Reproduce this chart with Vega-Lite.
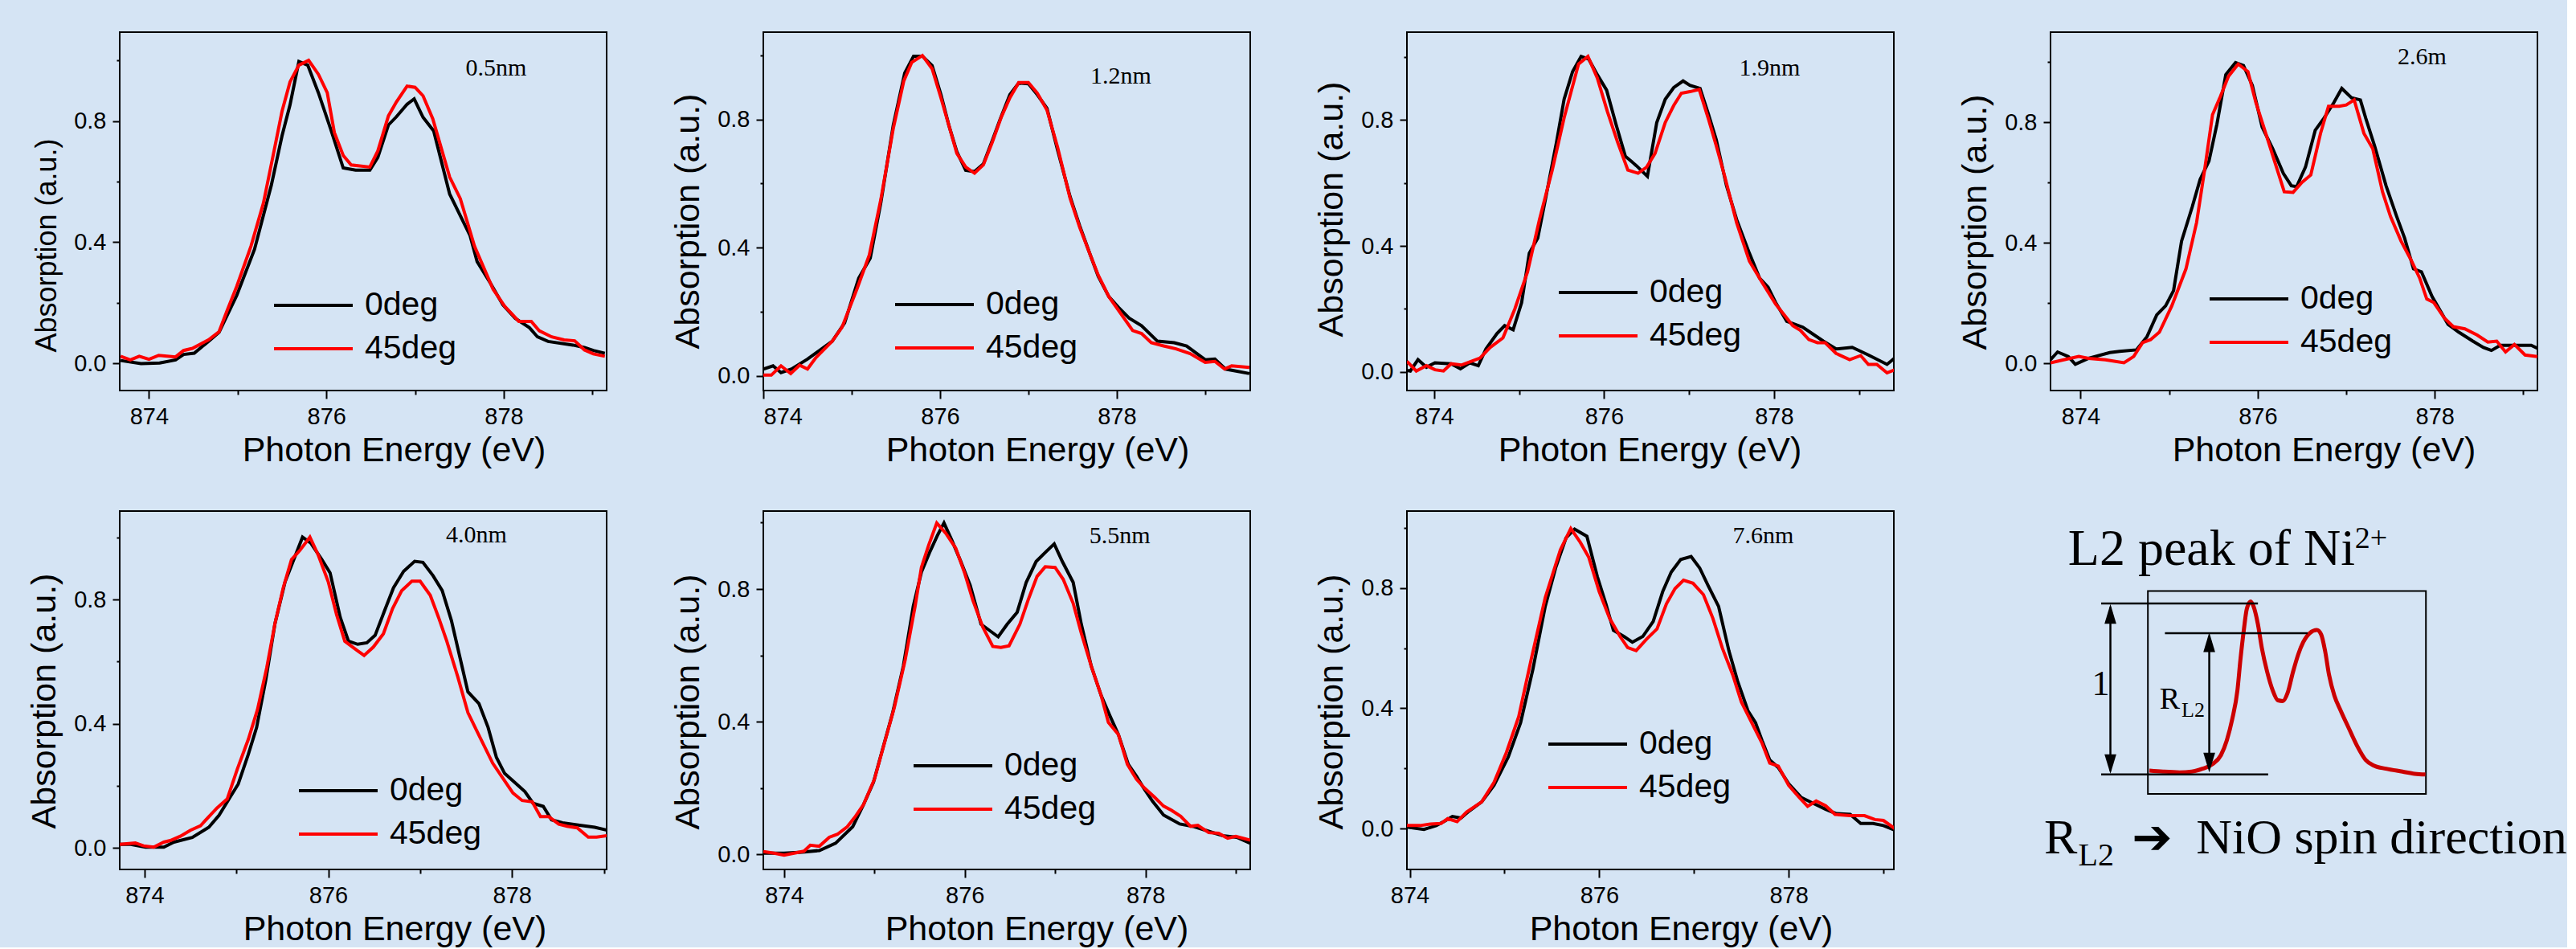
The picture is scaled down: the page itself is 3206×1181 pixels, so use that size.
{
"$schema": "https://vega.github.io/schema/vega-lite/v6.json",
"background": "#d5e4f4",
"padding": {"left": 33, "top": 39, "right": 0, "bottom": 0},
"config": {
  "view": {"stroke": "#000000", "strokeWidth": 2},
  "line": {"strokeWidth": 4},
  "axis": {"domain": false, "grid": false, "labelFont": "Liberation Sans", "labelFontSize": 29, "labelColor": "#000000", "titleFont": "Liberation Sans", "titleFontSize": 43, "titleFontWeight": "normal", "titleColor": "#000000", "tickColor": "#000000", "tickWidth": 2},
  "legend": {"orient": "none", "symbolType": "stroke", "symbolSize": 9604, "symbolStrokeWidth": 4.5, "labelFont": "Liberation Sans", "labelFontSize": 41, "labelColor": "#000000", "labelOffset": 13, "clipHeight": 44, "rowPadding": 10, "padding": 0, "labelLimit": 0}
},
"datasets": {
  "spec": [
{"p":"P1","s":"0deg","e":873.68,"a":0.010},{"p":"P1","s":"0deg","e":873.91,"a":0.0},{"p":"P1","s":"0deg","e":874.12,"a":0.002},{"p":"P1","s":"0deg","e":874.30,"a":0.012},{"p":"P1","s":"0deg","e":874.39,"a":0.030},{"p":"P1","s":"0deg","e":874.51,"a":0.034},{"p":"P1","s":"0deg","e":874.67,"a":0.073},{"p":"P1","s":"0deg","e":874.79,"a":0.103},{"p":"P1","s":"0deg","e":874.99,"a":0.225},{"p":"P1","s":"0deg","e":875.19,"a":0.377},{"p":"P1","s":"0deg","e":875.38,"a":0.589},{"p":"P1","s":"0deg","e":875.50,"a":0.751},{"p":"P1","s":"0deg","e":875.59,"a":0.853},{"p":"P1","s":"0deg","e":875.69,"a":0.996},{"p":"P1","s":"0deg","e":875.79,"a":0.984},{"p":"P1","s":"0deg","e":875.91,"a":0.893},{"p":"P1","s":"0deg","e":876.05,"a":0.772},{"p":"P1","s":"0deg","e":876.19,"a":0.645},{"p":"P1","s":"0deg","e":876.33,"a":0.638},{"p":"P1","s":"0deg","e":876.49,"a":0.638},{"p":"P1","s":"0deg","e":876.58,"a":0.680},{"p":"P1","s":"0deg","e":876.70,"a":0.787},{"p":"P1","s":"0deg","e":876.79,"a":0.814},{"p":"P1","s":"0deg","e":876.91,"a":0.855},{"p":"P1","s":"0deg","e":876.99,"a":0.873},{"p":"P1","s":"0deg","e":877.09,"a":0.812},{"p":"P1","s":"0deg","e":877.21,"a":0.767},{"p":"P1","s":"0deg","e":877.39,"a":0.559},{"p":"P1","s":"0deg","e":877.51,"a":0.488},{"p":"P1","s":"0deg","e":877.62,"a":0.422},{"p":"P1","s":"0deg","e":877.70,"a":0.336},{"p":"P1","s":"0deg","e":877.85,"a":0.265},{"p":"P1","s":"0deg","e":877.99,"a":0.194},{"p":"P1","s":"0deg","e":878.13,"a":0.149},{"p":"P1","s":"0deg","e":878.29,"a":0.118},{"p":"P1","s":"0deg","e":878.38,"a":0.088},{"p":"P1","s":"0deg","e":878.50,"a":0.073},{"p":"P1","s":"0deg","e":878.78,"a":0.061},{"p":"P1","s":"0deg","e":878.91,"a":0.053},{"p":"P1","s":"0deg","e":879.01,"a":0.043},{"p":"P1","s":"0deg","e":879.14,"a":0.034},
{"p":"P1","s":"45deg","e":873.68,"a":0.024},{"p":"P1","s":"45deg","e":873.79,"a":0.012},{"p":"P1","s":"45deg","e":873.89,"a":0.024},{"p":"P1","s":"45deg","e":874.0,"a":0.014},{"p":"P1","s":"45deg","e":874.11,"a":0.027},{"p":"P1","s":"45deg","e":874.30,"a":0.022},{"p":"P1","s":"45deg","e":874.39,"a":0.043},{"p":"P1","s":"45deg","e":874.49,"a":0.050},{"p":"P1","s":"45deg","e":874.67,"a":0.078},{"p":"P1","s":"45deg","e":874.79,"a":0.105},{"p":"P1","s":"45deg","e":874.88,"a":0.174},{"p":"P1","s":"45deg","e":874.99,"a":0.255},{"p":"P1","s":"45deg","e":875.15,"a":0.387},{"p":"P1","s":"45deg","e":875.29,"a":0.529},{"p":"P1","s":"45deg","e":875.41,"a":0.701},{"p":"P1","s":"45deg","e":875.50,"a":0.832},{"p":"P1","s":"45deg","e":875.59,"a":0.929},{"p":"P1","s":"45deg","e":875.69,"a":0.984},{"p":"P1","s":"45deg","e":875.80,"a":1.0},{"p":"P1","s":"45deg","e":875.91,"a":0.954},{"p":"P1","s":"45deg","e":876.01,"a":0.893},{"p":"P1","s":"45deg","e":876.09,"a":0.762},{"p":"P1","s":"45deg","e":876.19,"a":0.686},{"p":"P1","s":"45deg","e":876.28,"a":0.655},{"p":"P1","s":"45deg","e":876.49,"a":0.648},{"p":"P1","s":"45deg","e":876.58,"a":0.701},{"p":"P1","s":"45deg","e":876.70,"a":0.817},{"p":"P1","s":"45deg","e":876.79,"a":0.863},{"p":"P1","s":"45deg","e":876.91,"a":0.915},{"p":"P1","s":"45deg","e":877.00,"a":0.911},{"p":"P1","s":"45deg","e":877.09,"a":0.883},{"p":"P1","s":"45deg","e":877.20,"a":0.807},{"p":"P1","s":"45deg","e":877.39,"a":0.615},{"p":"P1","s":"45deg","e":877.51,"a":0.544},{"p":"P1","s":"45deg","e":877.67,"a":0.387},{"p":"P1","s":"45deg","e":877.88,"a":0.245},{"p":"P1","s":"45deg","e":878.01,"a":0.189},{"p":"P1","s":"45deg","e":878.17,"a":0.139},{"p":"P1","s":"45deg","e":878.31,"a":0.139},{"p":"P1","s":"45deg","e":878.40,"a":0.108},{"p":"P1","s":"45deg","e":878.54,"a":0.088},{"p":"P1","s":"45deg","e":878.68,"a":0.078},{"p":"P1","s":"45deg","e":878.80,"a":0.075},{"p":"P1","s":"45deg","e":878.91,"a":0.045},{"p":"P1","s":"45deg","e":879.01,"a":0.032},{"p":"P1","s":"45deg","e":879.14,"a":0.024},
{"p":"P2","s":"0deg","e":874.0,"a":0.021},{"p":"P2","s":"0deg","e":874.11,"a":0.031},{"p":"P2","s":"0deg","e":874.20,"a":0.010},{"p":"P2","s":"0deg","e":874.32,"a":0.021},{"p":"P2","s":"0deg","e":874.50,"a":0.052},{"p":"P2","s":"0deg","e":874.78,"a":0.108},{"p":"P2","s":"0deg","e":874.92,"a":0.165},{"p":"P2","s":"0deg","e":875.08,"a":0.305},{"p":"P2","s":"0deg","e":875.21,"a":0.367},{"p":"P2","s":"0deg","e":875.33,"a":0.540},{"p":"P2","s":"0deg","e":875.47,"a":0.781},{"p":"P2","s":"0deg","e":875.60,"a":0.944},{"p":"P2","s":"0deg","e":875.70,"a":0.997},{"p":"P2","s":"0deg","e":875.80,"a":0.997},{"p":"P2","s":"0deg","e":875.91,"a":0.968},{"p":"P2","s":"0deg","e":876.01,"a":0.877},{"p":"P2","s":"0deg","e":876.10,"a":0.781},{"p":"P2","s":"0deg","e":876.19,"a":0.699},{"p":"P2","s":"0deg","e":876.29,"a":0.641},{"p":"P2","s":"0deg","e":876.39,"a":0.637},{"p":"P2","s":"0deg","e":876.49,"a":0.661},{"p":"P2","s":"0deg","e":876.59,"a":0.733},{"p":"P2","s":"0deg","e":876.68,"a":0.800},{"p":"P2","s":"0deg","e":876.79,"a":0.877},{"p":"P2","s":"0deg","e":876.89,"a":0.913},{"p":"P2","s":"0deg","e":877.0,"a":0.911},{"p":"P2","s":"0deg","e":877.10,"a":0.877},{"p":"P2","s":"0deg","e":877.21,"a":0.834},{"p":"P2","s":"0deg","e":877.33,"a":0.704},{"p":"P2","s":"0deg","e":877.47,"a":0.560},{"p":"P2","s":"0deg","e":877.58,"a":0.468},{"p":"P2","s":"0deg","e":877.70,"a":0.377},{"p":"P2","s":"0deg","e":877.79,"a":0.310},{"p":"P2","s":"0deg","e":877.91,"a":0.247},{"p":"P2","s":"0deg","e":878.02,"a":0.213},{"p":"P2","s":"0deg","e":878.14,"a":0.180},{"p":"P2","s":"0deg","e":878.28,"a":0.156},{"p":"P2","s":"0deg","e":878.46,"a":0.108},{"p":"P2","s":"0deg","e":878.65,"a":0.103},{"p":"P2","s":"0deg","e":878.79,"a":0.093},{"p":"P2","s":"0deg","e":879.0,"a":0.050},{"p":"P2","s":"0deg","e":879.11,"a":0.052},{"p":"P2","s":"0deg","e":879.23,"a":0.021},{"p":"P2","s":"0deg","e":879.50,"a":0.007},
{"p":"P2","s":"45deg","e":874.0,"a":0.002},{"p":"P2","s":"45deg","e":874.09,"a":0.002},{"p":"P2","s":"45deg","e":874.20,"a":0.031},{"p":"P2","s":"45deg","e":874.31,"a":0.007},{"p":"P2","s":"45deg","e":874.41,"a":0.033},{"p":"P2","s":"45deg","e":874.50,"a":0.021},{"p":"P2","s":"45deg","e":874.59,"a":0.055},{"p":"P2","s":"45deg","e":874.78,"a":0.108},{"p":"P2","s":"45deg","e":874.89,"a":0.151},{"p":"P2","s":"45deg","e":875.06,"a":0.271},{"p":"P2","s":"45deg","e":875.20,"a":0.377},{"p":"P2","s":"45deg","e":875.33,"a":0.550},{"p":"P2","s":"45deg","e":875.47,"a":0.771},{"p":"P2","s":"45deg","e":875.59,"a":0.920},{"p":"P2","s":"45deg","e":875.68,"a":0.978},{"p":"P2","s":"45deg","e":875.80,"a":0.999},{"p":"P2","s":"45deg","e":875.91,"a":0.958},{"p":"P2","s":"45deg","e":876.01,"a":0.867},{"p":"P2","s":"45deg","e":876.10,"a":0.781},{"p":"P2","s":"45deg","e":876.19,"a":0.694},{"p":"P2","s":"45deg","e":876.29,"a":0.651},{"p":"P2","s":"45deg","e":876.39,"a":0.632},{"p":"P2","s":"45deg","e":876.49,"a":0.658},{"p":"P2","s":"45deg","e":876.59,"a":0.728},{"p":"P2","s":"45deg","e":876.69,"a":0.805},{"p":"P2","s":"45deg","e":876.79,"a":0.867},{"p":"P2","s":"45deg","e":876.89,"a":0.915},{"p":"P2","s":"45deg","e":877.0,"a":0.915},{"p":"P2","s":"45deg","e":877.10,"a":0.882},{"p":"P2","s":"45deg","e":877.21,"a":0.829},{"p":"P2","s":"45deg","e":877.33,"a":0.713},{"p":"P2","s":"45deg","e":877.47,"a":0.555},{"p":"P2","s":"45deg","e":877.58,"a":0.463},{"p":"P2","s":"45deg","e":877.70,"a":0.377},{"p":"P2","s":"45deg","e":877.79,"a":0.314},{"p":"P2","s":"45deg","e":877.91,"a":0.247},{"p":"P2","s":"45deg","e":878.02,"a":0.204},{"p":"P2","s":"45deg","e":878.18,"a":0.141},{"p":"P2","s":"45deg","e":878.28,"a":0.132},{"p":"P2","s":"45deg","e":878.39,"a":0.103},{"p":"P2","s":"45deg","e":878.53,"a":0.093},{"p":"P2","s":"45deg","e":878.67,"a":0.084},{"p":"P2","s":"45deg","e":878.83,"a":0.069},{"p":"P2","s":"45deg","e":879.0,"a":0.042},{"p":"P2","s":"45deg","e":879.11,"a":0.045},{"p":"P2","s":"45deg","e":879.22,"a":0.021},{"p":"P2","s":"45deg","e":879.30,"a":0.031},{"p":"P2","s":"45deg","e":879.50,"a":0.026},
{"p":"P3","s":"0deg","e":873.68,"a":0.005},{"p":"P3","s":"0deg","e":873.72,"a":0.003},{"p":"P3","s":"0deg","e":873.81,"a":0.039},{"p":"P3","s":"0deg","e":873.91,"a":0.015},{"p":"P3","s":"0deg","e":874.01,"a":0.029},{"p":"P3","s":"0deg","e":874.20,"a":0.026},{"p":"P3","s":"0deg","e":874.31,"a":0.010},{"p":"P3","s":"0deg","e":874.42,"a":0.029},{"p":"P3","s":"0deg","e":874.52,"a":0.020},{"p":"P3","s":"0deg","e":874.61,"a":0.073},{"p":"P3","s":"0deg","e":874.74,"a":0.122},{"p":"P3","s":"0deg","e":874.83,"a":0.147},{"p":"P3","s":"0deg","e":874.93,"a":0.134},{"p":"P3","s":"0deg","e":875.03,"a":0.220},{"p":"P3","s":"0deg","e":875.12,"a":0.377},{"p":"P3","s":"0deg","e":875.22,"a":0.425},{"p":"P3","s":"0deg","e":875.32,"a":0.562},{"p":"P3","s":"0deg","e":875.44,"a":0.729},{"p":"P3","s":"0deg","e":875.53,"a":0.866},{"p":"P3","s":"0deg","e":875.63,"a":0.954},{"p":"P3","s":"0deg","e":875.73,"a":1.002},{"p":"P3","s":"0deg","e":875.82,"a":0.993},{"p":"P3","s":"0deg","e":875.92,"a":0.944},{"p":"P3","s":"0deg","e":876.03,"a":0.895},{"p":"P3","s":"0deg","e":876.14,"a":0.787},{"p":"P3","s":"0deg","e":876.25,"a":0.685},{"p":"P3","s":"0deg","e":876.38,"a":0.655},{"p":"P3","s":"0deg","e":876.51,"a":0.621},{"p":"P3","s":"0deg","e":876.62,"a":0.792},{"p":"P3","s":"0deg","e":876.72,"a":0.866},{"p":"P3","s":"0deg","e":876.82,"a":0.903},{"p":"P3","s":"0deg","e":876.93,"a":0.924},{"p":"P3","s":"0deg","e":877.01,"a":0.910},{"p":"P3","s":"0deg","e":877.13,"a":0.900},{"p":"P3","s":"0deg","e":877.23,"a":0.817},{"p":"P3","s":"0deg","e":877.32,"a":0.738},{"p":"P3","s":"0deg","e":877.44,"a":0.592},{"p":"P3","s":"0deg","e":877.56,"a":0.484},{"p":"P3","s":"0deg","e":877.71,"a":0.377},{"p":"P3","s":"0deg","e":877.83,"a":0.298},{"p":"P3","s":"0deg","e":877.93,"a":0.269},{"p":"P3","s":"0deg","e":878.02,"a":0.220},{"p":"P3","s":"0deg","e":878.15,"a":0.161},{"p":"P3","s":"0deg","e":878.34,"a":0.142},{"p":"P3","s":"0deg","e":878.58,"a":0.098},{"p":"P3","s":"0deg","e":878.73,"a":0.073},{"p":"P3","s":"0deg","e":878.92,"a":0.078},{"p":"P3","s":"0deg","e":879.11,"a":0.054},{"p":"P3","s":"0deg","e":879.33,"a":0.024},{"p":"P3","s":"0deg","e":879.42,"a":0.044},
{"p":"P3","s":"45deg","e":873.68,"a":0.034},{"p":"P3","s":"45deg","e":873.79,"a":0.003},{"p":"P3","s":"45deg","e":873.91,"a":0.020},{"p":"P3","s":"45deg","e":874.01,"a":0.007},{"p":"P3","s":"45deg","e":874.11,"a":0.003},{"p":"P3","s":"45deg","e":874.20,"a":0.026},{"p":"P3","s":"45deg","e":874.32,"a":0.022},{"p":"P3","s":"45deg","e":874.42,"a":0.032},{"p":"P3","s":"45deg","e":874.54,"a":0.044},{"p":"P3","s":"45deg","e":874.66,"a":0.078},{"p":"P3","s":"45deg","e":874.81,"a":0.108},{"p":"P3","s":"45deg","e":874.95,"a":0.200},{"p":"P3","s":"45deg","e":875.10,"a":0.318},{"p":"P3","s":"45deg","e":875.24,"a":0.484},{"p":"P3","s":"45deg","e":875.39,"a":0.641},{"p":"P3","s":"45deg","e":875.53,"a":0.807},{"p":"P3","s":"45deg","e":875.70,"a":0.978},{"p":"P3","s":"45deg","e":875.81,"a":1.002},{"p":"P3","s":"45deg","e":875.92,"a":0.934},{"p":"P3","s":"45deg","e":876.04,"a":0.826},{"p":"P3","s":"45deg","e":876.16,"a":0.729},{"p":"P3","s":"45deg","e":876.28,"a":0.641},{"p":"P3","s":"45deg","e":876.40,"a":0.631},{"p":"P3","s":"45deg","e":876.50,"a":0.650},{"p":"P3","s":"45deg","e":876.60,"a":0.694},{"p":"P3","s":"45deg","e":876.72,"a":0.792},{"p":"P3","s":"45deg","e":876.82,"a":0.846},{"p":"P3","s":"45deg","e":876.91,"a":0.885},{"p":"P3","s":"45deg","e":877.01,"a":0.890},{"p":"P3","s":"45deg","e":877.12,"a":0.897},{"p":"P3","s":"45deg","e":877.23,"a":0.802},{"p":"P3","s":"45deg","e":877.32,"a":0.719},{"p":"P3","s":"45deg","e":877.42,"a":0.621},{"p":"P3","s":"45deg","e":877.56,"a":0.474},{"p":"P3","s":"45deg","e":877.71,"a":0.352},{"p":"P3","s":"45deg","e":877.85,"a":0.289},{"p":"P3","s":"45deg","e":878.02,"a":0.215},{"p":"P3","s":"45deg","e":878.22,"a":0.147},{"p":"P3","s":"45deg","e":878.31,"a":0.132},{"p":"P3","s":"45deg","e":878.41,"a":0.103},{"p":"P3","s":"45deg","e":878.51,"a":0.093},{"p":"P3","s":"45deg","e":878.60,"a":0.093},{"p":"P3","s":"45deg","e":878.73,"a":0.059},{"p":"P3","s":"45deg","e":878.89,"a":0.039},{"p":"P3","s":"45deg","e":879.02,"a":0.052},{"p":"P3","s":"45deg","e":879.11,"a":0.024},{"p":"P3","s":"45deg","e":879.21,"a":0.024},{"p":"P3","s":"45deg","e":879.33,"a":-0.003},{"p":"P3","s":"45deg","e":879.42,"a":0.007},
{"p":"P4","s":"0deg","e":873.66,"a":0.012},{"p":"P4","s":"0deg","e":873.74,"a":0.038},{"p":"P4","s":"0deg","e":873.86,"a":0.023},{"p":"P4","s":"0deg","e":873.94,"a":-0.003},{"p":"P4","s":"0deg","e":874.09,"a":0.017},{"p":"P4","s":"0deg","e":874.33,"a":0.036},{"p":"P4","s":"0deg","e":874.44,"a":0.040},{"p":"P4","s":"0deg","e":874.63,"a":0.045},{"p":"P4","s":"0deg","e":874.75,"a":0.089},{"p":"P4","s":"0deg","e":874.86,"a":0.161},{"p":"P4","s":"0deg","e":874.96,"a":0.191},{"p":"P4","s":"0deg","e":875.05,"a":0.242},{"p":"P4","s":"0deg","e":875.14,"a":0.406},{"p":"P4","s":"0deg","e":875.26,"a":0.519},{"p":"P4","s":"0deg","e":875.35,"a":0.611},{"p":"P4","s":"0deg","e":875.45,"a":0.672},{"p":"P4","s":"0deg","e":875.54,"a":0.795},{"p":"P4","s":"0deg","e":875.64,"a":0.959},{"p":"P4","s":"0deg","e":875.75,"a":0.999},{"p":"P4","s":"0deg","e":875.84,"a":0.989},{"p":"P4","s":"0deg","e":875.94,"a":0.923},{"p":"P4","s":"0deg","e":876.05,"a":0.785},{"p":"P4","s":"0deg","e":876.17,"a":0.713},{"p":"P4","s":"0deg","e":876.29,"a":0.631},{"p":"P4","s":"0deg","e":876.38,"a":0.590},{"p":"P4","s":"0deg","e":876.44,"a":0.587},{"p":"P4","s":"0deg","e":876.54,"a":0.652},{"p":"P4","s":"0deg","e":876.65,"a":0.774},{"p":"P4","s":"0deg","e":876.75,"a":0.815},{"p":"P4","s":"0deg","e":876.86,"a":0.866},{"p":"P4","s":"0deg","e":876.95,"a":0.913},{"p":"P4","s":"0deg","e":877.06,"a":0.882},{"p":"P4","s":"0deg","e":877.16,"a":0.875},{"p":"P4","s":"0deg","e":877.22,"a":0.815},{"p":"P4","s":"0deg","e":877.32,"a":0.723},{"p":"P4","s":"0deg","e":877.45,"a":0.590},{"p":"P4","s":"0deg","e":877.57,"a":0.488},{"p":"P4","s":"0deg","e":877.66,"a":0.416},{"p":"P4","s":"0deg","e":877.76,"a":0.314},{"p":"P4","s":"0deg","e":877.85,"a":0.304},{"p":"P4","s":"0deg","e":877.97,"a":0.222},{"p":"P4","s":"0deg","e":878.15,"a":0.130},{"p":"P4","s":"0deg","e":878.27,"a":0.104},{"p":"P4","s":"0deg","e":878.43,"a":0.074},{"p":"P4","s":"0deg","e":878.55,"a":0.053},{"p":"P4","s":"0deg","e":878.64,"a":0.043},{"p":"P4","s":"0deg","e":878.74,"a":0.060},{"p":"P4","s":"0deg","e":878.95,"a":0.060},{"p":"P4","s":"0deg","e":879.09,"a":0.060},{"p":"P4","s":"0deg","e":879.16,"a":0.050},
{"p":"P4","s":"45deg","e":873.66,"a":0.002},{"p":"P4","s":"45deg","e":873.81,"a":0.012},{"p":"P4","s":"45deg","e":873.98,"a":0.023},{"p":"P4","s":"45deg","e":874.09,"a":0.017},{"p":"P4","s":"45deg","e":874.28,"a":0.012},{"p":"P4","s":"45deg","e":874.49,"a":0.002},{"p":"P4","s":"45deg","e":874.60,"a":0.023},{"p":"P4","s":"45deg","e":874.70,"a":0.069},{"p":"P4","s":"45deg","e":874.79,"a":0.079},{"p":"P4","s":"45deg","e":874.89,"a":0.104},{"p":"P4","s":"45deg","e":875.03,"a":0.191},{"p":"P4","s":"45deg","e":875.19,"a":0.314},{"p":"P4","s":"45deg","e":875.31,"a":0.468},{"p":"P4","s":"45deg","e":875.40,"a":0.641},{"p":"P4","s":"45deg","e":875.49,"a":0.826},{"p":"P4","s":"45deg","e":875.58,"a":0.887},{"p":"P4","s":"45deg","e":875.67,"a":0.953},{"p":"P4","s":"45deg","e":875.78,"a":0.994},{"p":"P4","s":"45deg","e":875.89,"a":0.969},{"p":"P4","s":"45deg","e":875.98,"a":0.866},{"p":"P4","s":"45deg","e":876.08,"a":0.774},{"p":"P4","s":"45deg","e":876.19,"a":0.672},{"p":"P4","s":"45deg","e":876.30,"a":0.570},{"p":"P4","s":"45deg","e":876.40,"a":0.568},{"p":"P4","s":"45deg","e":876.50,"a":0.601},{"p":"P4","s":"45deg","e":876.60,"a":0.626},{"p":"P4","s":"45deg","e":876.71,"a":0.764},{"p":"P4","s":"45deg","e":876.80,"a":0.854},{"p":"P4","s":"45deg","e":876.92,"a":0.854},{"p":"P4","s":"45deg","e":877.00,"a":0.858},{"p":"P4","s":"45deg","e":877.09,"a":0.875},{"p":"P4","s":"45deg","e":877.20,"a":0.764},{"p":"P4","s":"45deg","e":877.30,"a":0.713},{"p":"P4","s":"45deg","e":877.41,"a":0.570},{"p":"P4","s":"45deg","e":877.50,"a":0.488},{"p":"P4","s":"45deg","e":877.62,"a":0.406},{"p":"P4","s":"45deg","e":877.73,"a":0.345},{"p":"P4","s":"45deg","e":877.83,"a":0.283},{"p":"P4","s":"45deg","e":877.91,"a":0.214},{"p":"P4","s":"45deg","e":877.99,"a":0.202},{"p":"P4","s":"45deg","e":878.11,"a":0.150},{"p":"P4","s":"45deg","e":878.21,"a":0.122},{"p":"P4","s":"45deg","e":878.34,"a":0.115},{"p":"P4","s":"45deg","e":878.48,"a":0.094},{"p":"P4","s":"45deg","e":878.60,"a":0.071},{"p":"P4","s":"45deg","e":878.70,"a":0.074},{"p":"P4","s":"45deg","e":878.80,"a":0.038},{"p":"P4","s":"45deg","e":878.90,"a":0.063},{"p":"P4","s":"45deg","e":879.02,"a":0.028},{"p":"P4","s":"45deg","e":879.16,"a":0.023},
{"p":"P5","s":"0deg","e":873.73,"a":0.012},{"p":"P5","s":"0deg","e":873.85,"a":0.012},{"p":"P5","s":"0deg","e":874.01,"a":0.003},{"p":"P5","s":"0deg","e":874.21,"a":0.003},{"p":"P5","s":"0deg","e":874.32,"a":0.019},{"p":"P5","s":"0deg","e":874.52,"a":0.034},{"p":"P5","s":"0deg","e":874.70,"a":0.067},{"p":"P5","s":"0deg","e":874.81,"a":0.105},{"p":"P5","s":"0deg","e":874.92,"a":0.158},{"p":"P5","s":"0deg","e":875.02,"a":0.206},{"p":"P5","s":"0deg","e":875.13,"a":0.302},{"p":"P5","s":"0deg","e":875.22,"a":0.388},{"p":"P5","s":"0deg","e":875.32,"a":0.541},{"p":"P5","s":"0deg","e":875.42,"a":0.723},{"p":"P5","s":"0deg","e":875.53,"a":0.857},{"p":"P5","s":"0deg","e":875.62,"a":0.925},{"p":"P5","s":"0deg","e":875.72,"a":1.001},{"p":"P5","s":"0deg","e":875.81,"a":0.982},{"p":"P5","s":"0deg","e":875.93,"a":0.929},{"p":"P5","s":"0deg","e":876.02,"a":0.886},{"p":"P5","s":"0deg","e":876.13,"a":0.743},{"p":"P5","s":"0deg","e":876.22,"a":0.666},{"p":"P5","s":"0deg","e":876.32,"a":0.656},{"p":"P5","s":"0deg","e":876.42,"a":0.661},{"p":"P5","s":"0deg","e":876.51,"a":0.685},{"p":"P5","s":"0deg","e":876.61,"a":0.762},{"p":"P5","s":"0deg","e":876.71,"a":0.838},{"p":"P5","s":"0deg","e":876.82,"a":0.891},{"p":"P5","s":"0deg","e":876.94,"a":0.923},{"p":"P5","s":"0deg","e":877.03,"a":0.920},{"p":"P5","s":"0deg","e":877.14,"a":0.877},{"p":"P5","s":"0deg","e":877.24,"a":0.829},{"p":"P5","s":"0deg","e":877.34,"a":0.733},{"p":"P5","s":"0deg","e":877.43,"a":0.618},{"p":"P5","s":"0deg","e":877.52,"a":0.503},{"p":"P5","s":"0deg","e":877.64,"a":0.465},{"p":"P5","s":"0deg","e":877.74,"a":0.388},{"p":"P5","s":"0deg","e":877.83,"a":0.292},{"p":"P5","s":"0deg","e":877.92,"a":0.240},{"p":"P5","s":"0deg","e":878.03,"a":0.211},{"p":"P5","s":"0deg","e":878.14,"a":0.182},{"p":"P5","s":"0deg","e":878.23,"a":0.144},{"p":"P5","s":"0deg","e":878.34,"a":0.134},{"p":"P5","s":"0deg","e":878.43,"a":0.091},{"p":"P5","s":"0deg","e":878.55,"a":0.081},{"p":"P5","s":"0deg","e":878.72,"a":0.074},{"p":"P5","s":"0deg","e":878.90,"a":0.067},{"p":"P5","s":"0deg","e":879.04,"a":0.057},
{"p":"P5","s":"45deg","e":873.73,"a":0.012},{"p":"P5","s":"45deg","e":873.90,"a":0.016},{"p":"P5","s":"45deg","e":873.99,"a":0.007},{"p":"P5","s":"45deg","e":874.10,"a":0.003},{"p":"P5","s":"45deg","e":874.21,"a":0.019},{"p":"P5","s":"45deg","e":874.28,"a":0.024},{"p":"P5","s":"45deg","e":874.39,"a":0.038},{"p":"P5","s":"45deg","e":874.50,"a":0.057},{"p":"P5","s":"45deg","e":874.61,"a":0.072},{"p":"P5","s":"45deg","e":874.70,"a":0.101},{"p":"P5","s":"45deg","e":874.79,"a":0.129},{"p":"P5","s":"45deg","e":874.90,"a":0.158},{"p":"P5","s":"45deg","e":875.01,"a":0.254},{"p":"P5","s":"45deg","e":875.13,"a":0.350},{"p":"P5","s":"45deg","e":875.23,"a":0.446},{"p":"P5","s":"45deg","e":875.33,"a":0.580},{"p":"P5","s":"45deg","e":875.42,"a":0.723},{"p":"P5","s":"45deg","e":875.51,"a":0.838},{"p":"P5","s":"45deg","e":875.60,"a":0.929},{"p":"P5","s":"45deg","e":875.69,"a":0.958},{"p":"P5","s":"45deg","e":875.80,"a":1.001},{"p":"P5","s":"45deg","e":875.89,"a":0.944},{"p":"P5","s":"45deg","e":876.00,"a":0.857},{"p":"P5","s":"45deg","e":876.09,"a":0.752},{"p":"P5","s":"45deg","e":876.18,"a":0.666},{"p":"P5","s":"45deg","e":876.31,"a":0.637},{"p":"P5","s":"45deg","e":876.39,"a":0.620},{"p":"P5","s":"45deg","e":876.49,"a":0.647},{"p":"P5","s":"45deg","e":876.60,"a":0.690},{"p":"P5","s":"45deg","e":876.70,"a":0.771},{"p":"P5","s":"45deg","e":876.80,"a":0.829},{"p":"P5","s":"45deg","e":876.91,"a":0.859},{"p":"P5","s":"45deg","e":877.00,"a":0.859},{"p":"P5","s":"45deg","e":877.11,"a":0.814},{"p":"P5","s":"45deg","e":877.20,"a":0.743},{"p":"P5","s":"45deg","e":877.29,"a":0.666},{"p":"P5","s":"45deg","e":877.41,"a":0.551},{"p":"P5","s":"45deg","e":877.52,"a":0.436},{"p":"P5","s":"45deg","e":877.63,"a":0.369},{"p":"P5","s":"45deg","e":877.79,"a":0.273},{"p":"P5","s":"45deg","e":877.90,"a":0.225},{"p":"P5","s":"45deg","e":878.01,"a":0.177},{"p":"P5","s":"45deg","e":878.11,"a":0.153},{"p":"P5","s":"45deg","e":878.22,"a":0.149},{"p":"P5","s":"45deg","e":878.31,"a":0.101},{"p":"P5","s":"45deg","e":878.40,"a":0.101},{"p":"P5","s":"45deg","e":878.51,"a":0.077},{"p":"P5","s":"45deg","e":878.60,"a":0.070},{"p":"P5","s":"45deg","e":878.71,"a":0.065},{"p":"P5","s":"45deg","e":878.83,"a":0.035},{"p":"P5","s":"45deg","e":878.92,"a":0.035},{"p":"P5","s":"45deg","e":879.04,"a":0.040},
{"p":"P6","s":"0deg","e":873.77,"a":0.004},{"p":"P6","s":"0deg","e":874.0,"a":0.004},{"p":"P6","s":"0deg","e":874.20,"a":0.007},{"p":"P6","s":"0deg","e":874.39,"a":0.012},{"p":"P6","s":"0deg","e":874.57,"a":0.034},{"p":"P6","s":"0deg","e":874.76,"a":0.084},{"p":"P6","s":"0deg","e":874.88,"a":0.151},{"p":"P6","s":"0deg","e":874.99,"a":0.218},{"p":"P6","s":"0deg","e":875.09,"a":0.317},{"p":"P6","s":"0deg","e":875.20,"a":0.425},{"p":"P6","s":"0deg","e":875.32,"a":0.568},{"p":"P6","s":"0deg","e":875.43,"a":0.748},{"p":"P6","s":"0deg","e":875.52,"a":0.851},{"p":"P6","s":"0deg","e":875.61,"a":0.910},{"p":"P6","s":"0deg","e":875.70,"a":0.963},{"p":"P6","s":"0deg","e":875.77,"a":0.999},{"p":"P6","s":"0deg","e":875.86,"a":0.945},{"p":"P6","s":"0deg","e":875.95,"a":0.887},{"p":"P6","s":"0deg","e":876.06,"a":0.811},{"p":"P6","s":"0deg","e":876.18,"a":0.694},{"p":"P6","s":"0deg","e":876.27,"a":0.676},{"p":"P6","s":"0deg","e":876.37,"a":0.656},{"p":"P6","s":"0deg","e":876.47,"a":0.694},{"p":"P6","s":"0deg","e":876.58,"a":0.730},{"p":"P6","s":"0deg","e":876.68,"a":0.820},{"p":"P6","s":"0deg","e":876.79,"a":0.883},{"p":"P6","s":"0deg","e":876.89,"a":0.910},{"p":"P6","s":"0deg","e":876.99,"a":0.936},{"p":"P6","s":"0deg","e":877.08,"a":0.883},{"p":"P6","s":"0deg","e":877.20,"a":0.820},{"p":"P6","s":"0deg","e":877.29,"a":0.694},{"p":"P6","s":"0deg","e":877.40,"a":0.568},{"p":"P6","s":"0deg","e":877.51,"a":0.479},{"p":"P6","s":"0deg","e":877.61,"a":0.416},{"p":"P6","s":"0deg","e":877.70,"a":0.362},{"p":"P6","s":"0deg","e":877.81,"a":0.272},{"p":"P6","s":"0deg","e":877.90,"a":0.236},{"p":"P6","s":"0deg","e":877.99,"a":0.196},{"p":"P6","s":"0deg","e":878.08,"a":0.160},{"p":"P6","s":"0deg","e":878.20,"a":0.119},{"p":"P6","s":"0deg","e":878.38,"a":0.092},{"p":"P6","s":"0deg","e":878.54,"a":0.084},{"p":"P6","s":"0deg","e":878.70,"a":0.070},{"p":"P6","s":"0deg","e":878.85,"a":0.057},{"p":"P6","s":"0deg","e":879.01,"a":0.052},{"p":"P6","s":"0deg","e":879.16,"a":0.034},
{"p":"P6","s":"45deg","e":873.77,"a":0.009},{"p":"P6","s":"45deg","e":873.89,"a":0.004},{"p":"P6","s":"45deg","e":874.0,"a":-0.002},{"p":"P6","s":"45deg","e":874.11,"a":0.004},{"p":"P6","s":"45deg","e":874.22,"a":0.010},{"p":"P6","s":"45deg","e":874.29,"a":0.028},{"p":"P6","s":"45deg","e":874.39,"a":0.025},{"p":"P6","s":"45deg","e":874.50,"a":0.052},{"p":"P6","s":"45deg","e":874.59,"a":0.061},{"p":"P6","s":"45deg","e":874.70,"a":0.084},{"p":"P6","s":"45deg","e":874.79,"a":0.115},{"p":"P6","s":"45deg","e":874.88,"a":0.151},{"p":"P6","s":"45deg","e":875.00,"a":0.227},{"p":"P6","s":"45deg","e":875.11,"a":0.335},{"p":"P6","s":"45deg","e":875.22,"a":0.443},{"p":"P6","s":"45deg","e":875.34,"a":0.586},{"p":"P6","s":"45deg","e":875.45,"a":0.748},{"p":"P6","s":"45deg","e":875.52,"a":0.865},{"p":"P6","s":"45deg","e":875.60,"a":0.932},{"p":"P6","s":"45deg","e":875.69,"a":0.999},{"p":"P6","s":"45deg","e":875.79,"a":0.968},{"p":"P6","s":"45deg","e":875.90,"a":0.923},{"p":"P6","s":"45deg","e":876.00,"a":0.847},{"p":"P6","s":"45deg","e":876.09,"a":0.766},{"p":"P6","s":"45deg","e":876.20,"a":0.685},{"p":"P6","s":"45deg","e":876.31,"a":0.627},{"p":"P6","s":"45deg","e":876.40,"a":0.624},{"p":"P6","s":"45deg","e":876.49,"a":0.629},{"p":"P6","s":"45deg","e":876.61,"a":0.694},{"p":"P6","s":"45deg","e":876.70,"a":0.766},{"p":"P6","s":"45deg","e":876.80,"a":0.838},{"p":"P6","s":"45deg","e":876.89,"a":0.867},{"p":"P6","s":"45deg","e":877.00,"a":0.865},{"p":"P6","s":"45deg","e":877.09,"a":0.829},{"p":"P6","s":"45deg","e":877.20,"a":0.757},{"p":"P6","s":"45deg","e":877.29,"a":0.667},{"p":"P6","s":"45deg","e":877.40,"a":0.568},{"p":"P6","s":"45deg","e":877.51,"a":0.479},{"p":"P6","s":"45deg","e":877.59,"a":0.398},{"p":"P6","s":"45deg","e":877.70,"a":0.362},{"p":"P6","s":"45deg","e":877.80,"a":0.272},{"p":"P6","s":"45deg","e":877.90,"a":0.227},{"p":"P6","s":"45deg","e":877.99,"a":0.200},{"p":"P6","s":"45deg","e":878.10,"a":0.173},{"p":"P6","s":"45deg","e":878.20,"a":0.146},{"p":"P6","s":"45deg","e":878.29,"a":0.133},{"p":"P6","s":"45deg","e":878.39,"a":0.115},{"p":"P6","s":"45deg","e":878.50,"a":0.085},{"p":"P6","s":"45deg","e":878.58,"a":0.088},{"p":"P6","s":"45deg","e":878.70,"a":0.066},{"p":"P6","s":"45deg","e":878.81,"a":0.064},{"p":"P6","s":"45deg","e":878.91,"a":0.049},{"p":"P6","s":"45deg","e":879.0,"a":0.055},{"p":"P6","s":"45deg","e":879.16,"a":0.043},
{"p":"P7","s":"0deg","e":873.97,"a":0.005},{"p":"P7","s":"0deg","e":874.15,"a":-0.003},{"p":"P7","s":"0deg","e":874.28,"a":0.010},{"p":"P7","s":"0deg","e":874.37,"a":0.025},{"p":"P7","s":"0deg","e":874.45,"a":0.040},{"p":"P7","s":"0deg","e":874.54,"a":0.035},{"p":"P7","s":"0deg","e":874.63,"a":0.059},{"p":"P7","s":"0deg","e":874.76,"a":0.089},{"p":"P7","s":"0deg","e":874.89,"a":0.144},{"p":"P7","s":"0deg","e":875.04,"a":0.238},{"p":"P7","s":"0deg","e":875.17,"a":0.352},{"p":"P7","s":"0deg","e":875.30,"a":0.530},{"p":"P7","s":"0deg","e":875.43,"a":0.739},{"p":"P7","s":"0deg","e":875.54,"a":0.867},{"p":"P7","s":"0deg","e":875.65,"a":0.967},{"p":"P7","s":"0deg","e":875.74,"a":0.996},{"p":"P7","s":"0deg","e":875.87,"a":0.972},{"p":"P7","s":"0deg","e":875.98,"a":0.838},{"p":"P7","s":"0deg","e":876.07,"a":0.748},{"p":"P7","s":"0deg","e":876.15,"a":0.659},{"p":"P7","s":"0deg","e":876.26,"a":0.639},{"p":"P7","s":"0deg","e":876.35,"a":0.620},{"p":"P7","s":"0deg","e":876.46,"a":0.639},{"p":"P7","s":"0deg","e":876.57,"a":0.689},{"p":"P7","s":"0deg","e":876.67,"a":0.788},{"p":"P7","s":"0deg","e":876.76,"a":0.853},{"p":"P7","s":"0deg","e":876.86,"a":0.895},{"p":"P7","s":"0deg","e":876.97,"a":0.905},{"p":"P7","s":"0deg","e":877.06,"a":0.867},{"p":"P7","s":"0deg","e":877.15,"a":0.808},{"p":"P7","s":"0deg","e":877.26,"a":0.739},{"p":"P7","s":"0deg","e":877.37,"a":0.590},{"p":"P7","s":"0deg","e":877.46,"a":0.491},{"p":"P7","s":"0deg","e":877.57,"a":0.392},{"p":"P7","s":"0deg","e":877.65,"a":0.352},{"p":"P7","s":"0deg","e":877.72,"a":0.292},{"p":"P7","s":"0deg","e":877.80,"a":0.228},{"p":"P7","s":"0deg","e":877.89,"a":0.203},{"p":"P7","s":"0deg","e":878.0,"a":0.149},{"p":"P7","s":"0deg","e":878.13,"a":0.104},{"p":"P7","s":"0deg","e":878.26,"a":0.084},{"p":"P7","s":"0deg","e":878.39,"a":0.064},{"p":"P7","s":"0deg","e":878.50,"a":0.050},{"p":"P7","s":"0deg","e":878.65,"a":0.047},{"p":"P7","s":"0deg","e":878.76,"a":0.017},{"p":"P7","s":"0deg","e":878.89,"a":0.017},{"p":"P7","s":"0deg","e":879.0,"a":0.010},{"p":"P7","s":"0deg","e":879.12,"a":-0.005},
{"p":"P7","s":"45deg","e":873.97,"a":0.010},{"p":"P7","s":"45deg","e":874.11,"a":0.010},{"p":"P7","s":"45deg","e":874.22,"a":0.015},{"p":"P7","s":"45deg","e":874.33,"a":0.017},{"p":"P7","s":"45deg","e":874.40,"a":0.033},{"p":"P7","s":"45deg","e":874.50,"a":0.023},{"p":"P7","s":"45deg","e":874.60,"a":0.055},{"p":"P7","s":"45deg","e":874.76,"a":0.089},{"p":"P7","s":"45deg","e":874.89,"a":0.154},{"p":"P7","s":"45deg","e":875.02,"a":0.253},{"p":"P7","s":"45deg","e":875.15,"a":0.372},{"p":"P7","s":"45deg","e":875.28,"a":0.560},{"p":"P7","s":"45deg","e":875.43,"a":0.768},{"p":"P7","s":"45deg","e":875.59,"a":0.927},{"p":"P7","s":"45deg","e":875.70,"a":0.998},{"p":"P7","s":"45deg","e":875.80,"a":0.952},{"p":"P7","s":"45deg","e":875.89,"a":0.902},{"p":"P7","s":"45deg","e":876.00,"a":0.788},{"p":"P7","s":"45deg","e":876.11,"a":0.699},{"p":"P7","s":"45deg","e":876.22,"a":0.639},{"p":"P7","s":"45deg","e":876.30,"a":0.602},{"p":"P7","s":"45deg","e":876.39,"a":0.592},{"p":"P7","s":"45deg","e":876.50,"a":0.630},{"p":"P7","s":"45deg","e":876.61,"a":0.664},{"p":"P7","s":"45deg","e":876.71,"a":0.748},{"p":"P7","s":"45deg","e":876.80,"a":0.798},{"p":"P7","s":"45deg","e":876.89,"a":0.826},{"p":"P7","s":"45deg","e":876.99,"a":0.816},{"p":"P7","s":"45deg","e":877.10,"a":0.778},{"p":"P7","s":"45deg","e":877.20,"a":0.699},{"p":"P7","s":"45deg","e":877.30,"a":0.600},{"p":"P7","s":"45deg","e":877.41,"a":0.511},{"p":"P7","s":"45deg","e":877.50,"a":0.421},{"p":"P7","s":"45deg","e":877.61,"a":0.352},{"p":"P7","s":"45deg","e":877.72,"a":0.283},{"p":"P7","s":"45deg","e":877.80,"a":0.218},{"p":"P7","s":"45deg","e":877.89,"a":0.208},{"p":"P7","s":"45deg","e":878.0,"a":0.144},{"p":"P7","s":"45deg","e":878.11,"a":0.104},{"p":"P7","s":"45deg","e":878.20,"a":0.074},{"p":"P7","s":"45deg","e":878.29,"a":0.092},{"p":"P7","s":"45deg","e":878.39,"a":0.076},{"p":"P7","s":"45deg","e":878.49,"a":0.047},{"p":"P7","s":"45deg","e":878.65,"a":0.043},{"p":"P7","s":"45deg","e":878.80,"a":0.043},{"p":"P7","s":"45deg","e":878.91,"a":0.030},{"p":"P7","s":"45deg","e":879.0,"a":0.027},{"p":"P7","s":"45deg","e":879.12,"a":0.0}
  ],
  "labels": [
    {"p":"P1","e":877.57,"a":0.950,"t":"0.5nm"},
    {"p":"P2","e":877.70,"a":0.912,"t":"1.2nm"},
    {"p":"P3","e":877.59,"a":0.941,"t":"1.9nm"},
    {"p":"P4","e":877.58,"a":0.993,"t":"2.6m"},
    {"p":"P5","e":877.28,"a":0.984,"t":"4.0nm"},
    {"p":"P6","e":877.38,"a":0.938,"t":"5.5nm"},
    {"p":"P7","e":877.41,"a":0.949,"t":"7.6nm"}
  ],
  "curve": [
    {"u":20.3,"v":27.6},{"u":23.1,"v":27.3},{"u":26.5,"v":27.1},{"u":29.0,"v":27.3},{"u":31.2,"v":28.1},{"u":33.3,"v":29.4},{"u":35.0,"v":31.9},{"u":36.2,"v":36.0},{"u":37.3,"v":41.8},{"u":38.4,"v":50.1},{"u":39.0,"v":58.5},{"u":39.7,"v":66.8},{"u":40.3,"v":72.6},{"u":41.1,"v":74.8},{"u":41.7,"v":73.4},{"u":42.6,"v":68.4},{"u":43.4,"v":61.8},{"u":44.5,"v":55.1},{"u":45.6,"v":50.1},{"u":46.7,"v":47.2},{"u":47.7,"v":47.0},{"u":48.7,"v":49.3},{"u":49.8,"v":55.1},{"u":50.9,"v":60.1},{"u":51.9,"v":63.4},{"u":53.2,"v":65.9},{"u":54.7,"v":66.8},{"u":55.6,"v":65.5},{"u":56.4,"v":60.9},{"u":57.2,"v":54.3},{"u":58.3,"v":48.5},{"u":59.6,"v":44.3},{"u":61.3,"v":39.3},{"u":63.0,"v":34.4},{"u":64.7,"v":30.6},{"u":66.4,"v":29.0},{"u":68.9,"v":28.1},{"u":72.3,"v":27.3},{"u":74.8,"v":26.7},{"u":77.0,"v":26.5}
  ]
},
"bounds": "flush",
"columns": 4,
"spacing": {"row": 150, "column": 195},
"resolve": {"scale": {"color": "independent"}},
"concat": [
  {"width": 606, "height": 446,
   "encoding": {
    "x": {"field": "e", "type": "quantitative", "scale": {"domain": [873.67, 879.16], "nice": false, "zero": false}, "axis": {"title": "Photon Energy (eV)", "values": [874,875,876,877,878,879], "format": "d", "labelExpr": "datum.value % 2 === 0 ? datum.label : ''", "tickSize": {"condition": {"test": "datum.value % 2 === 0", "value": 10}, "value": 5}, "labelPadding": 8, "titleX": 341, "titleY": 53}},
    "y": {"field": "a", "type": "quantitative", "scale": {"domain": [-0.089, 1.093], "nice": false, "zero": false}, "axis": {"title": "Absorption (a.u.)", "values": [0,0.2,0.4,0.6,0.8,1.0], "format": ".1f", "labelExpr": "round(datum.value*10) % 4 === 0 ? datum.label : ''", "tickSize": {"condition": {"test": "round(datum.value*10) % 4 === 0", "value": 9}, "value": 4}, "labelPadding": 8, "titleX": -72, "titleY": 265, "titleFontSize": 36}}
   },
   "layer": [
    {"data": {"name": "spec"}, "transform": [{"filter": "datum.p === 'P1'"}], "mark": {"type": "line", "clip": true}, "encoding": {"color": {"field": "s", "type": "nominal", "scale": {"domain": ["0deg","45deg"], "range": ["#000000","#ff0000"]}, "legend": {"title": null, "legendX": 190, "legendY": 318}}}},
    {"data": {"name": "labels"}, "transform": [{"filter": "datum.p === 'P1'"}], "mark": {"type": "text", "font": "Liberation Serif", "fontSize": 30, "align": "left", "baseline": "alphabetic", "color": "#000000"}, "encoding": {"text": {"field": "t"}}}
   ]},
  {"width": 606, "height": 446,
   "encoding": {
    "x": {"field": "e", "type": "quantitative", "scale": {"domain": [874.0, 879.51], "nice": false, "zero": false}, "axis": {"title": "Photon Energy (eV)", "values": [874,875,876,877,878,879], "format": "d", "labelExpr": "datum.value % 2 === 0 ? datum.label : ''", "tickSize": {"condition": {"test": "datum.value % 2 === 0", "value": 10}, "value": 5}, "labelPadding": 8, "titleX": 341, "titleY": 53}},
    "y": {"field": "a", "type": "quantitative", "scale": {"domain": [-0.046, 1.072], "nice": false, "zero": false}, "axis": {"title": "Absorption (a.u.)", "values": [0,0.2,0.4,0.6,0.8,1.0], "format": ".1f", "labelExpr": "round(datum.value*10) % 4 === 0 ? datum.label : ''", "tickSize": {"condition": {"test": "round(datum.value*10) % 4 === 0", "value": 9}, "value": 4}, "labelPadding": 8, "titleX": -72, "titleY": 235}}
   },
   "layer": [
    {"data": {"name": "spec"}, "transform": [{"filter": "datum.p === 'P2'"}], "mark": {"type": "line", "clip": true}, "encoding": {"color": {"field": "s", "type": "nominal", "scale": {"domain": ["0deg","45deg"], "range": ["#000000","#ff0000"]}, "legend": {"title": null, "legendX": 162, "legendY": 317}}}},
    {"data": {"name": "labels"}, "transform": [{"filter": "datum.p === 'P2'"}], "mark": {"type": "text", "font": "Liberation Serif", "fontSize": 30, "align": "left", "baseline": "alphabetic", "color": "#000000"}, "encoding": {"text": {"field": "t"}}}
   ]},
  {"width": 606, "height": 446,
   "encoding": {
    "x": {"field": "e", "type": "quantitative", "scale": {"domain": [873.68, 879.41], "nice": false, "zero": false}, "axis": {"title": "Photon Energy (eV)", "values": [874,875,876,877,878,879], "format": "d", "labelExpr": "datum.value % 2 === 0 ? datum.label : ''", "tickSize": {"condition": {"test": "datum.value % 2 === 0", "value": 10}, "value": 5}, "labelPadding": 8, "titleX": 302, "titleY": 53}},
    "y": {"field": "a", "type": "quantitative", "scale": {"domain": [-0.059, 1.079], "nice": false, "zero": false}, "axis": {"title": "Absorption (a.u.)", "values": [0,0.2,0.4,0.6,0.8,1.0], "format": ".1f", "labelExpr": "round(datum.value*10) % 4 === 0 ? datum.label : ''", "tickSize": {"condition": {"test": "round(datum.value*10) % 4 === 0", "value": 9}, "value": 4}, "labelPadding": 8, "titleX": -72, "titleY": 220}}
   },
   "layer": [
    {"data": {"name": "spec"}, "transform": [{"filter": "datum.p === 'P3'"}], "mark": {"type": "line", "clip": true}, "encoding": {"color": {"field": "s", "type": "nominal", "scale": {"domain": ["0deg","45deg"], "range": ["#000000","#ff0000"]}, "legend": {"title": null, "legendX": 187, "legendY": 302}}}},
    {"data": {"name": "labels"}, "transform": [{"filter": "datum.p === 'P3'"}], "mark": {"type": "text", "font": "Liberation Serif", "fontSize": 30, "align": "left", "baseline": "alphabetic", "color": "#000000"}, "encoding": {"text": {"field": "t"}}}
   ]},
  {"width": 606, "height": 446,
   "encoding": {
    "x": {"field": "e", "type": "quantitative", "scale": {"domain": [873.66, 879.16], "nice": false, "zero": false}, "axis": {"title": "Photon Energy (eV)", "values": [874,875,876,877,878,879], "format": "d", "labelExpr": "datum.value % 2 === 0 ? datum.label : ''", "tickSize": {"condition": {"test": "datum.value % 2 === 0", "value": 10}, "value": 5}, "labelPadding": 8, "titleX": 340, "titleY": 53}},
    "y": {"field": "a", "type": "quantitative", "scale": {"domain": [-0.09, 1.10], "nice": false, "zero": false}, "axis": {"title": "Absorption (a.u.)", "values": [0,0.2,0.4,0.6,0.8,1.0], "format": ".1f", "labelExpr": "round(datum.value*10) % 4 === 0 ? datum.label : ''", "tickSize": {"condition": {"test": "round(datum.value*10) % 4 === 0", "value": 9}, "value": 4}, "labelPadding": 8, "titleX": -72, "titleY": 236}}
   },
   "layer": [
    {"data": {"name": "spec"}, "transform": [{"filter": "datum.p === 'P4'"}], "mark": {"type": "line", "clip": true}, "encoding": {"color": {"field": "s", "type": "nominal", "scale": {"domain": ["0deg","45deg"], "range": ["#000000","#ff0000"]}, "legend": {"title": null, "legendX": 196, "legendY": 310}}}},
    {"data": {"name": "labels"}, "transform": [{"filter": "datum.p === 'P4'"}], "mark": {"type": "text", "font": "Liberation Serif", "fontSize": 30, "align": "left", "baseline": "alphabetic", "color": "#000000"}, "encoding": {"text": {"field": "t"}}}
   ]},
  {"width": 606, "height": 446,
   "encoding": {
    "x": {"field": "e", "type": "quantitative", "scale": {"domain": [873.73, 879.03], "nice": false, "zero": false}, "axis": {"title": "Photon Energy (eV)", "values": [874,875,876,877,878,879], "format": "d", "labelExpr": "datum.value % 2 === 0 ? datum.label : ''", "tickSize": {"condition": {"test": "datum.value % 2 === 0", "value": 10}, "value": 5}, "labelPadding": 8, "titleX": 342, "titleY": 53}},
    "y": {"field": "a", "type": "quantitative", "scale": {"domain": [-0.069, 1.085], "nice": false, "zero": false}, "axis": {"title": "Absorption (a.u.)", "values": [0,0.2,0.4,0.6,0.8,1.0], "format": ".1f", "labelExpr": "round(datum.value*10) % 4 === 0 ? datum.label : ''", "tickSize": {"condition": {"test": "round(datum.value*10) % 4 === 0", "value": 9}, "value": 4}, "labelPadding": 8, "titleX": -72, "titleY": 236}}
   },
   "layer": [
    {"data": {"name": "spec"}, "transform": [{"filter": "datum.p === 'P5'"}], "mark": {"type": "line", "clip": true}, "encoding": {"color": {"field": "s", "type": "nominal", "scale": {"domain": ["0deg","45deg"], "range": ["#000000","#ff0000"]}, "legend": {"title": null, "legendX": 221, "legendY": 326}}}},
    {"data": {"name": "labels"}, "transform": [{"filter": "datum.p === 'P5'"}], "mark": {"type": "text", "font": "Liberation Serif", "fontSize": 30, "align": "left", "baseline": "alphabetic", "color": "#000000"}, "encoding": {"text": {"field": "t"}}}
   ]},
  {"width": 606, "height": 446,
   "encoding": {
    "x": {"field": "e", "type": "quantitative", "scale": {"domain": [873.77, 879.16], "nice": false, "zero": false}, "axis": {"title": "Photon Energy (eV)", "values": [874,875,876,877,878,879], "format": "d", "labelExpr": "datum.value % 2 === 0 ? datum.label : ''", "tickSize": {"condition": {"test": "datum.value % 2 === 0", "value": 10}, "value": 5}, "labelPadding": 8, "titleX": 340, "titleY": 53}},
    "y": {"field": "a", "type": "quantitative", "scale": {"domain": [-0.045, 1.035], "nice": false, "zero": false}, "axis": {"title": "Absorption (a.u.)", "values": [0,0.2,0.4,0.6,0.8,1.0], "format": ".1f", "labelExpr": "round(datum.value*10) % 4 === 0 ? datum.label : ''", "tickSize": {"condition": {"test": "round(datum.value*10) % 4 === 0", "value": 9}, "value": 4}, "labelPadding": 8, "titleX": -72, "titleY": 237}}
   },
   "layer": [
    {"data": {"name": "spec"}, "transform": [{"filter": "datum.p === 'P6'"}], "mark": {"type": "line", "clip": true}, "encoding": {"color": {"field": "s", "type": "nominal", "scale": {"domain": ["0deg","45deg"], "range": ["#000000","#ff0000"]}, "legend": {"title": null, "legendX": 185, "legendY": 295}}}},
    {"data": {"name": "labels"}, "transform": [{"filter": "datum.p === 'P6'"}], "mark": {"type": "text", "font": "Liberation Serif", "fontSize": 30, "align": "left", "baseline": "alphabetic", "color": "#000000"}, "encoding": {"text": {"field": "t"}}}
   ]},
  {"width": 606, "height": 446,
   "encoding": {
    "x": {"field": "e", "type": "quantitative", "scale": {"domain": [873.97, 879.11], "nice": false, "zero": false}, "axis": {"title": "Photon Energy (eV)", "values": [874,875,876,877,878,879], "format": "d", "labelExpr": "datum.value % 2 === 0 ? datum.label : ''", "tickSize": {"condition": {"test": "datum.value % 2 === 0", "value": 10}, "value": 5}, "labelPadding": 8, "titleX": 341, "titleY": 53}},
    "y": {"field": "a", "type": "quantitative", "scale": {"domain": [-0.136, 1.056], "nice": false, "zero": false}, "axis": {"title": "Absorption (a.u.)", "values": [0,0.2,0.4,0.6,0.8,1.0], "format": ".1f", "labelExpr": "round(datum.value*10) % 4 === 0 ? datum.label : ''", "tickSize": {"condition": {"test": "round(datum.value*10) % 4 === 0", "value": 9}, "value": 4}, "labelPadding": 8, "titleX": -72, "titleY": 237}}
   },
   "layer": [
    {"data": {"name": "spec"}, "transform": [{"filter": "datum.p === 'P7'"}], "mark": {"type": "line", "clip": true}, "encoding": {"color": {"field": "s", "type": "nominal", "scale": {"domain": ["0deg","45deg"], "range": ["#000000","#ff0000"]}, "legend": {"title": null, "legendX": 174, "legendY": 268}}}},
    {"data": {"name": "labels"}, "transform": [{"filter": "datum.p === 'P7'"}], "mark": {"type": "text", "font": "Liberation Serif", "fontSize": 30, "align": "left", "baseline": "alphabetic", "color": "#000000"}, "encoding": {"text": {"field": "t"}}}
   ]},
  {"width": 606, "height": 446, "view": {"stroke": null},
   "encoding": {
    "x": {"field": "u", "type": "quantitative", "scale": {"domain": [0, 100], "nice": false, "zero": false}, "axis": null},
    "y": {"field": "v", "type": "quantitative", "scale": {"domain": [0, 100], "nice": false, "zero": false}, "axis": null}
   },
   "layer": [
    {"data": {"values": [{"u": 20.0, "v": 21.1, "u2": 77.1, "v2": 77.7}]}, "mark": {"type": "rect", "fill": "transparent", "stroke": "#000000", "strokeWidth": 2}, "encoding": {"x2": {"field": "u2"}, "y2": {"field": "v2"}}},
    {"data": {"name": "curve"}, "mark": {"type": "line", "color": "#cc0000", "strokeWidth": 5, "interpolate": "monotone"}, "encoding": {}},
    {"data": {"values": [{"u": 10.4, "u2": 42.6, "v": 74.2}, {"u": 23.5, "u2": 52.8, "v": 65.9}, {"u": 10.4, "u2": 44.7, "v": 26.5}]}, "mark": {"type": "rule", "color": "#000000", "strokeWidth": 2.5}, "encoding": {"x2": {"field": "u2"}}},
    {"data": {"values": [{"u": 12.3, "v": 27.5, "v2": 73.2}, {"u": 32.6, "v": 28.3, "v2": 64.9}]}, "mark": {"type": "rule", "color": "#000000", "strokeWidth": 2.5}, "encoding": {"y2": {"field": "v2"}}},
    {"data": {"values": [{"u": 12.3, "v": 71.3, "d": "up"}, {"u": 12.3, "v": 29.4, "d": "down"}, {"u": 32.6, "v": 63.4, "d": "up"}, {"u": 32.6, "v": 29.8, "d": "down"}]}, "mark": {"type": "point", "filled": true, "color": "#000000", "opacity": 1, "size": 600}, "encoding": {"shape": {"field": "d", "type": "nominal", "scale": {"domain": ["up", "down"], "range": ["M0,-1L0.6,1L-0.6,1Z", "M0,1L0.6,-1L-0.6,-1Z"]}, "legend": null}}},
    {"data": {"values": [{"u": 3.6, "v": 85.0, "t": "L2 peak of Ni"}]}, "mark": {"type": "text", "font": "Liberation Serif", "fontSize": 64, "align": "left", "baseline": "alphabetic", "color": "#000000"}, "encoding": {"text": {"field": "t"}}},
    {"data": {"values": [{"u": -1.3, "v": 4.5, "t": "R"}, {"u": 29.9, "v": 4.5, "t": "NiO spin direction"}]}, "mark": {"type": "text", "font": "Liberation Serif", "fontSize": 62, "align": "left", "baseline": "alphabetic", "color": "#000000"}, "encoding": {"text": {"field": "t"}}},
    {"data": {"values": [{"u": 62.5, "v": 89.7, "t": "2+"}, {"u": 22.4, "v": 44.8, "t": "R"}]}, "mark": {"type": "text", "font": "Liberation Serif", "fontSize": 38, "align": "left", "baseline": "alphabetic", "color": "#000000"}, "encoding": {"text": {"field": "t"}}},
    {"data": {"values": [{"u": 5.7, "v": 1.1, "t": "L2"}]}, "mark": {"type": "text", "font": "Liberation Serif", "fontSize": 40, "align": "left", "baseline": "alphabetic", "color": "#000000"}, "encoding": {"text": {"field": "t"}}},
    {"data": {"values": [{"u": 26.9, "v": 42.7, "t": "L2"}]}, "mark": {"type": "text", "font": "Liberation Serif", "fontSize": 26, "align": "left", "baseline": "alphabetic", "color": "#000000"}, "encoding": {"text": {"field": "t"}}},
    {"data": {"values": [{"u": 8.5, "v": 48.7, "t": "1"}]}, "mark": {"type": "text", "font": "Liberation Serif", "fontSize": 44, "align": "left", "baseline": "alphabetic", "color": "#000000"}, "encoding": {"text": {"field": "t"}}},
    {"data": {"values": [{"u": 16.7, "v": 4.5, "t": "➔"}]}, "mark": {"type": "text", "font": "DejaVu Sans", "fontSize": 60, "align": "left", "baseline": "alphabetic", "color": "#000000"}, "encoding": {"text": {"field": "t"}}}
   ]}
]
}
